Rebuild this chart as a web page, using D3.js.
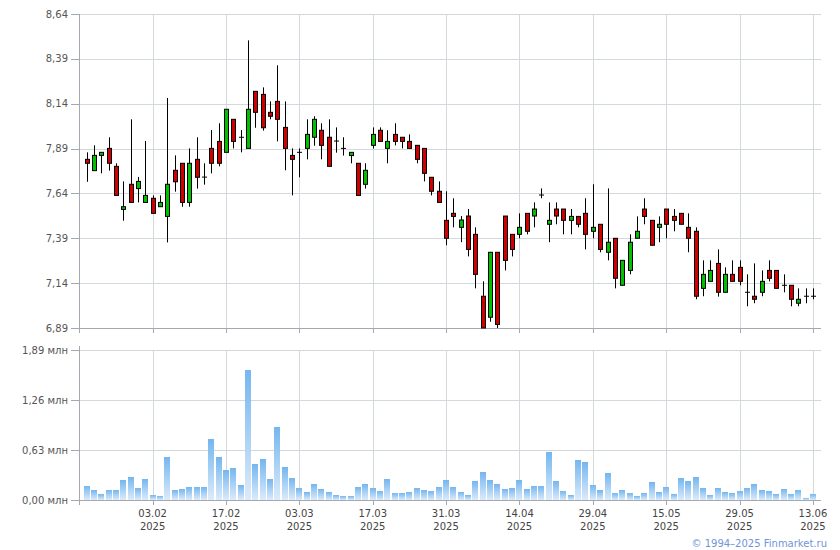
<!DOCTYPE html>
<html><head><meta charset="utf-8">
<script src="https://cdn.jsdelivr.net/npm/d3@7"></script>
<style>body{margin:0;background:#fff}svg{display:block}text{font-family:"DejaVu Sans",Verdana,sans-serif}</style>
</head><body>
<svg id="c" width="840" height="550"></svg>
<script>
const open  = [7.830,7.767,7.852,7.891,7.791,7.551,7.691,7.667,7.590,7.613,7.566,7.512,7.769,7.808,7.590,7.830,7.731,7.891,7.930,7.869,8.053,7.953,7.891,8.209,8.192,8.092,8.153,8.008,7.852,7.869,7.891,7.953,7.992,7.953,7.932,7.891,7.851,7.808,7.691,7.908,7.992,7.891,7.969,7.953,7.930,7.908,7.891,7.730,7.652,7.490,7.529,7.451,7.514,7.412,7.067,6.950,7.312,7.514,7.412,7.412,7.529,7.514,7.631,7.468,7.553,7.553,7.490,7.512,7.529,7.429,7.468,7.312,7.390,7.128,7.211,7.390,7.553,7.490,7.451,7.553,7.512,7.529,7.451,7.429,7.111,7.150,7.250,7.089,7.189,7.228,7.089,7.067,7.089,7.211,7.211,7.128,7.128,7.028,7.067,7.067];
const high  = [7.869,7.908,7.869,7.953,7.808,7.707,8.053,7.732,7.932,7.629,7.629,8.172,7.852,7.808,7.891,7.953,7.808,7.993,8.031,8.109,8.053,7.993,8.493,8.209,8.231,8.153,8.354,8.153,7.891,7.891,8.053,8.070,8.031,8.053,8.008,7.953,7.869,7.808,7.808,8.008,8.008,7.992,8.031,7.953,7.969,7.908,7.891,7.730,7.707,7.652,7.613,7.514,7.553,7.451,7.150,7.312,7.312,7.514,7.412,7.529,7.529,7.590,7.668,7.590,7.590,7.553,7.553,7.512,7.613,7.691,7.468,7.668,7.390,7.267,7.412,7.512,7.613,7.490,7.512,7.553,7.553,7.529,7.529,7.451,7.267,7.267,7.328,7.228,7.267,7.267,7.189,7.250,7.211,7.267,7.211,7.189,7.128,7.111,7.111,7.111];
const low   = [7.705,7.767,7.752,7.767,7.629,7.488,7.590,7.590,7.590,7.529,7.566,7.367,7.650,7.566,7.566,7.667,7.689,7.752,7.791,7.869,7.891,7.869,7.891,8.006,7.990,8.053,7.930,7.769,7.629,7.730,7.830,7.906,7.830,7.791,7.867,7.851,7.808,7.629,7.667,7.890,7.930,7.808,7.908,7.891,7.891,7.808,7.707,7.629,7.590,7.351,7.451,7.368,7.289,7.111,6.890,6.925,6.890,7.211,7.289,7.390,7.412,7.451,7.613,7.368,7.468,7.412,7.412,7.451,7.328,7.390,7.312,7.267,7.111,7.128,7.189,7.390,7.468,7.351,7.368,7.390,7.429,7.468,7.312,7.050,7.067,7.150,7.065,7.089,7.150,7.128,7.011,7.028,7.067,7.150,7.111,7.089,7.011,7.011,7.028,7.050];
const close = [7.808,7.852,7.869,7.808,7.629,7.566,7.590,7.707,7.629,7.529,7.590,7.691,7.705,7.590,7.808,7.730,7.731,7.808,7.808,8.109,7.930,7.953,8.109,8.092,8.006,8.070,8.053,7.891,7.830,7.869,7.969,8.053,7.908,7.791,7.932,7.891,7.869,7.629,7.769,7.969,7.930,7.930,7.930,7.930,7.891,7.830,7.752,7.652,7.590,7.390,7.512,7.492,7.328,7.189,6.890,7.312,6.910,7.267,7.328,7.451,7.429,7.553,7.631,7.490,7.514,7.490,7.512,7.468,7.412,7.451,7.328,7.368,7.167,7.267,7.368,7.429,7.512,7.351,7.468,7.468,7.490,7.468,7.390,7.067,7.189,7.211,7.089,7.189,7.150,7.150,7.089,7.050,7.150,7.167,7.111,7.128,7.050,7.050,7.067,7.067];
const volume = [0.176,0.126,0.076,0.126,0.126,0.252,0.290,0.151,0.265,0.063,0.050,0.542,0.126,0.139,0.164,0.164,0.164,0.769,0.542,0.378,0.403,0.189,1.638,0.454,0.517,0.265,0.920,0.416,0.277,0.151,0.101,0.202,0.139,0.101,0.063,0.050,0.050,0.164,0.202,0.151,0.113,0.265,0.088,0.088,0.101,0.151,0.126,0.113,0.164,0.252,0.164,0.101,0.063,0.239,0.353,0.252,0.202,0.139,0.151,0.252,0.139,0.176,0.176,0.605,0.239,0.113,0.063,0.504,0.479,0.189,0.126,0.340,0.088,0.126,0.088,0.050,0.088,0.227,0.101,0.164,0.076,0.277,0.239,0.290,0.151,0.063,0.151,0.101,0.088,0.113,0.151,0.202,0.126,0.113,0.076,0.139,0.076,0.126,0.025,0.076];
const priceTicks = [6.89,7.14,7.39,7.64,7.89,8.14,8.39,8.64];
const volumeTicks = [0,0.63,1.26,1.89];
const dateTickIndex = [9,19,29,39,49,59,69,79,89,99];
const dateTickLabels = ["03.02","17.02","03.03","17.03","31.03","14.04","29.04","15.05","29.05","13.06"];
const yearLabel = "2025";
const copyright = "© 1994–2025 Finmarket.ru";

const svg = d3.select("#c");
const L = 80, R = 821;
const pTop = 14, pBot = 328, vTop = 350, vBot = 500;
const x = d3.scaleLinear().domain([-0.9, 100.1]).range([L, R]);
const y = d3.scaleLinear().domain([6.89, 8.64]).range([pBot, pTop]);
const yv = d3.scaleLinear().domain([0, 1.89]).range([vBot, vTop]);
const fmt = v => d3.format(".2f")(v).replace(".", ",");
const gridC = "#d3d8dc", axisC = "#a4a8b0", textC = "#555";

const defs = svg.append("defs");
const grad = defs.append("linearGradient").attr("id","vg").attr("x1",0).attr("y1",0).attr("x2",0).attr("y2",1);
grad.append("stop").attr("offset","0%").attr("stop-color","#74b6ef");
grad.append("stop").attr("offset","100%").attr("stop-color","#dcebfa");
defs.append("clipPath").attr("id","pc").append("rect").attr("x",L).attr("y",pTop).attr("width",R-L).attr("height",pBot-pTop+1);

// grids
const g = svg.append("g");
g.selectAll(".hp").data(priceTicks).join("line").attr("x1",L).attr("x2",R)
  .attr("y1",d=>Math.round(y(d))+0.5).attr("y2",d=>Math.round(y(d))+0.5).attr("stroke",gridC);
g.selectAll(".hv").data(volumeTicks).join("line").attr("x1",L).attr("x2",R)
  .attr("y1",d=>Math.round(yv(d))+0.5).attr("y2",d=>Math.round(yv(d))+0.5).attr("stroke",gridC);
dateTickIndex.forEach(i=>{
  const xx = Math.round(x(i))+0.5;
  g.append("line").attr("x1",xx).attr("x2",xx).attr("y1",pTop).attr("y2",pBot).attr("stroke",gridC);
  g.append("line").attr("x1",xx).attr("x2",xx).attr("y1",vTop).attr("y2",vBot).attr("stroke",gridC);
});

// axes
const ax = svg.append("g").attr("stroke",axisC);
ax.append("line").attr("x1",L-0.5).attr("x2",L-0.5).attr("y1",pTop).attr("y2",pBot+5);
ax.append("line").attr("x1",L-0.5).attr("x2",L-0.5).attr("y1",vTop-4).attr("y2",vBot+5);
ax.append("line").attr("x1",L).attr("x2",R).attr("y1",pBot+0.5).attr("y2",pBot+0.5);
ax.append("line").attr("x1",L).attr("x2",R).attr("y1",vBot+0.5).attr("y2",vBot+0.5);
priceTicks.forEach(t=>{ const yy=Math.round(y(t))+0.5; ax.append("line").attr("x1",L-9).attr("x2",L-1).attr("y1",yy).attr("y2",yy); });
volumeTicks.forEach(t=>{ const yy=Math.round(yv(t))+0.5; ax.append("line").attr("x1",L-9).attr("x2",L-1).attr("y1",yy).attr("y2",yy); });
dateTickIndex.forEach(i=>{ const xx=Math.round(x(i))+0.5;
  ax.append("line").attr("x1",xx).attr("x2",xx).attr("y1",pBot).attr("y2",pBot+5);
  ax.append("line").attr("x1",xx).attr("x2",xx).attr("y1",vBot).attr("y2",vBot+5);
});

const tx = svg.append("g").attr("font-size",10).attr("fill",textC);
tx.selectAll(".pl").data(priceTicks).join("text").attr("x",L-12).attr("y",d=>y(d)+3.5).attr("text-anchor","end").text(fmt);
tx.selectAll(".vl").data(volumeTicks).join("text").attr("x",L-12).attr("y",d=>yv(d)+3.5).attr("text-anchor","end").text(d=>fmt(d)+" млн");
dateTickIndex.forEach((i,k)=>{
  tx.append("text").attr("x",x(i)).attr("y",517).attr("text-anchor","middle").attr("fill","#444").text(dateTickLabels[k]);
  tx.append("text").attr("x",x(i)).attr("y",530).attr("text-anchor","middle").attr("fill","#444").text(yearLabel);
});
svg.append("text").attr("x",827).attr("y",547).attr("text-anchor","end").attr("font-size",10).attr("fill","#6f95d8").text(copyright);

// volume bars
svg.append("g").selectAll("rect").data(volume).join("rect")
  .attr("x",(d,i)=>Math.round(x(i))-3).attr("width",6)
  .attr("y",d=>yv(d)).attr("height",d=>vBot-yv(d)).attr("fill","url(#vg)");

// candles
const cg = svg.append("g").attr("clip-path","url(#pc)");
open.forEach((o,i)=>{
  const c = close[i], xx = Math.round(x(i))+0.5;
  cg.append("line").attr("x1",xx).attr("x2",xx).attr("y1",y(high[i])).attr("y2",y(low[i])).attr("stroke","#000");
  if (Math.abs(c-o) < 1e-6) {
    cg.append("line").attr("x1",xx-2.5).attr("x2",xx+2.5).attr("y1",y(c)).attr("y2",y(c)).attr("stroke","#000");
  } else {
    const t = y(Math.max(o,c)), b = y(Math.min(o,c));
    cg.append("rect").attr("x",xx-2).attr("width",4).attr("y",t).attr("height",Math.max(1,b-t))
      .attr("fill", c>o ? "#00c000" : "#d00000").attr("stroke","#000").attr("stroke-width",1);
  }
});
</script>
</body></html>
